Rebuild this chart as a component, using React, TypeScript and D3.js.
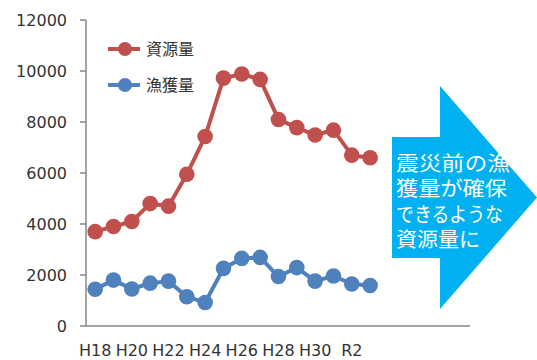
import React from "react";
import * as d3 from "d3";

const categories = ["H18","H19","H20","H21","H22","H23","H24","H25","H26","H27","H28","H29","H30","R1","R2","R3"];
const shownLabels = ["H18","H20","H22","H24","H26","H28","H30","R2"];
const resource = [3700, 3900, 4100, 4800, 4700, 5950, 7430, 9720, 9880, 9670, 8100, 7780, 7490, 7680, 6700, 6600];
const catch_ = [1440, 1800, 1450, 1680, 1760, 1150, 920, 2260, 2650, 2690, 1940, 2290, 1760, 1960, 1650, 1590];
const yTicks = [0, 2000, 4000, 6000, 8000, 10000, 12000];
const seriesNames = ["資源量", "漁獲量"];
const arrowLines = ["震災前の漁", "獲量が確保", "できるような", "資源量に"];

const W = 537, H = 360;
const left = 86, top = 20, bottom = 326, axisRight = 470;
const step = 18.33;

export default function App() {
  const x = d3.scaleBand<string>().domain(categories).range([left, left + step * categories.length]);
  const y = d3.scaleLinear().domain([0, 12000]).range([bottom, top]);
  const cx = (c: string) => (x(c) as number) + x.bandwidth() / 2;
  const line = d3.line<number>().x((_, i) => cx(categories[i])).y((d) => y(d));
  const colors = ["#C0504D", "#4F81BD"];
  const series = [resource, catch_];
  const axisColor = "#868686";
  const textColor = "#333";
  const numFont = "'DejaVu Sans', sans-serif";
  const jpFont = "'Noto Sans CJK JP', sans-serif";

  // arrow geometry
  const ax0 = 392, axHead = 440, tipX = 537, tipY = 197.5;
  const rectTop = 137, rectBot = 258, headTop = 86, headBot = 309;
  const arrowPath = `M${ax0},${rectTop}L${axHead},${rectTop}L${axHead},${headTop}L${tipX},${tipY}L${axHead},${headBot}L${axHead},${rectBot}L${ax0},${rectBot}Z`;
  const lineY = [164, 189, 215, 240];
  const lineLen = [114, 111, 107, 84];

  return (
    <svg width={W} height={H} style={{ position: "absolute", left: 0, top: 0 }}>
      <rect width={W} height={H} fill="#fff" />
      {/* axes */}
      <line x1={left} x2={left} y1={top} y2={bottom} stroke={axisColor} strokeWidth={1.5} />
      <line x1={left} x2={axisRight} y1={bottom} y2={bottom} stroke={axisColor} strokeWidth={1.5} />
      {yTicks.map((t) => (
        <g key={t}>
          <line x1={left - 6} x2={left} y1={y(t)} y2={y(t)} stroke={axisColor} strokeWidth={1.5} />
          <text x={67} y={y(t)} dy="0.36em" textAnchor="end" fontFamily={numFont} fontSize={16} fill={textColor}>{t}</text>
        </g>
      ))}
      {shownLabels.map((c) => (
        <text key={c} x={cx(c)} y={356} textAnchor="middle" fontFamily={numFont} fontSize={16} fill={textColor}>{c}</text>
      ))}
      {/* series */}
      {series.map((s, si) => (
        <g key={si}>
          <path d={line(s) as string} fill="none" stroke={colors[si]} strokeWidth={4} strokeLinejoin="round" />
          {s.map((v, i) => (
            <circle key={i} cx={cx(categories[i])} cy={y(v)} r={7.8} fill={colors[si]} />
          ))}
        </g>
      ))}
      {/* legend */}
      {seriesNames.map((n, i) => {
        const ly = 49 + i * 36;
        return (
          <g key={n}>
            <line x1={108} x2={140} y1={ly} y2={ly} stroke={colors[i]} strokeWidth={4} />
            <circle cx={125} cy={ly} r={7} fill={colors[i]} />
            <text x={146} y={ly} dy="0.36em" fontFamily={jpFont} fontSize={16} fill={textColor}>{n}</text>
          </g>
        );
      })}
      {/* arrow */}
      <path d={arrowPath} fill="#00B0F0" />
      {arrowLines.map((t, i) => (
        <text key={i} x={396} y={lineY[i]} dy="0.36em" fontFamily={jpFont} fontSize={20} fill="#fff"
          textLength={lineLen[i]} lengthAdjust="spacingAndGlyphs">{t}</text>
      ))}
    </svg>
  );
}
